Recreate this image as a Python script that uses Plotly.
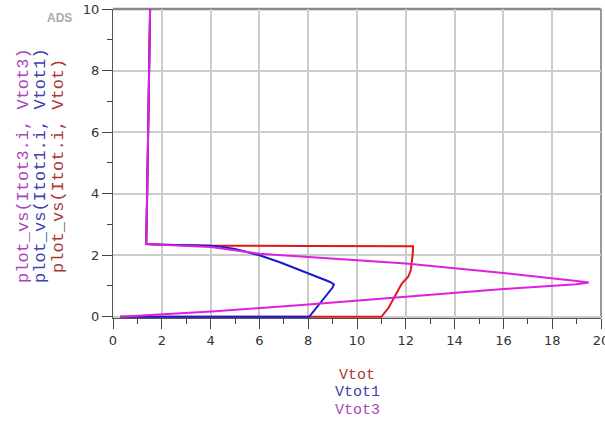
import plotly.graph_objects as go

# Series: Vtot (red)
vtot_x = [0.3, 11.0, 11.3, 11.83, 12.1, 12.2, 12.28, 12.3, 8.0, 4.0, 2.0, 1.36, 1.40, 1.45, 1.49, 1.52]
vtot_y = [0.0, 0.0, 0.3, 1.07, 1.3, 1.5, 2.0, 2.29, 2.30, 2.31, 2.34, 2.36, 4.0, 6.0, 8.0, 10.0]

# Series: Vtot1 (blue)
vtot1_x = [0.3, 8.04, 9.0, 9.05, 8.9, 6.84, 6.0, 5.5, 5.0, 4.5, 4.0, 3.0, 2.0, 1.36, 1.40, 1.45, 1.49, 1.52]
vtot1_y = [0.0, 0.0, 0.95, 1.05, 1.13, 1.77, 2.0, 2.1, 2.2, 2.27, 2.31, 2.32, 2.34, 2.36, 4.0, 6.0, 8.0, 10.0]

# Series: Vtot3 (magenta)
vtot3_x = [0.3, 4.2, 8.0, 12.0, 16.0, 19.0, 19.5, 19.0, 16.0, 12.0, 8.0, 6.0, 4.0, 3.0, 2.0, 1.36, 1.40, 1.45, 1.49, 1.52]
vtot3_y = [0.0, 0.18, 0.4, 0.65, 0.9, 1.06, 1.11, 1.16, 1.42, 1.73, 1.94, 2.05, 2.27, 2.3, 2.33, 2.36, 4.0, 6.0, 8.0, 10.0]

x_ticks = [0, 2, 4, 6, 8, 10, 12, 14, 16, 18, 20]
y_ticks = [0, 2, 4, 6, 8, 10]

series_names = ["Vtot", "Vtot1", "Vtot3"]
line_colors = ["#e01818", "#1a1ad0", "#e020e0"]
text_colors = ["#a83838", "#4040b0", "#a848b8"]
y_titles = ["plot_vs(Itot.i, Vtot)", "plot_vs(Itot1.i, Vtot1)", "plot_vs(Itot3.i, Vtot3)"]

fig = go.Figure()
for xs, ys, name, col in zip([vtot_x, vtot1_x, vtot3_x], [vtot_y, vtot1_y, vtot3_y], series_names, line_colors):
    fig.add_trace(go.Scatter(x=xs, y=ys, mode="lines", name=name,
                             line=dict(color=col, width=2), showlegend=False))

axis_common = dict(
    showgrid=True, gridcolor="#cccccc", gridwidth=1.5, layer="below traces",
    zeroline=False, showline=True, linecolor="#555555", linewidth=1.2,
    ticks="outside", ticklen=10, tickcolor="#444444", tickwidth=1.2,
    ticklabeloverflow="allow", automargin=False,
    tickfont=dict(family="DejaVu Sans", size=13, color="#333333"),
)
fig.update_xaxes(range=[0, 20], tickvals=x_ticks, **axis_common,
                 minor=dict(dtick=1, ticklen=5, tickcolor="#444444", showgrid=False, ticks="outside"))
fig.update_yaxes(range=[-0.04, 10], tickvals=y_ticks, **axis_common,
                 minor=dict(dtick=1, ticklen=5, tickcolor="#444444", showgrid=False, ticks="outside"))

# top and right borders
fig.add_shape(type="line", xref="paper", yref="paper", x0=0, x1=1, y0=1, y1=1, layer="below",
              line=dict(color="#888888", width=2.5))
fig.add_shape(type="line", xref="paper", yref="paper", x0=1, x1=1, y0=0, y1=1, layer="below",
              line=dict(color="#999999", width=2))

annotations = []
# rotated y titles (magenta leftmost)
y_x_pos = [58, 40, 23]
for txt, col, xp in zip(y_titles, text_colors, y_x_pos):
    annotations.append(dict(text=txt, xref="paper", yref="paper",
                            x=(xp - 113) / 488, y=(318 - 166) / 309,
                            xanchor="center", yanchor="middle", showarrow=False, textangle=-90,
                            font=dict(family="Liberation Mono", size=17, color=col)))
# x titles
x_y_pos = [375, 393, 411]
for txt, col, yp in zip(series_names, text_colors, x_y_pos):
    annotations.append(dict(text=txt, xref="paper", yref="paper",
                            x=0.5, y=(318 - yp) / 309,
                            xanchor="center", yanchor="middle", showarrow=False,
                            font=dict(family="Liberation Mono", size=15, color=col)))
annotations.append(dict(text="<b>ADS</b>", xref="paper", yref="paper",
                        x=(59 - 113) / 488, y=(318 - 18) / 309, xanchor="center", yanchor="middle",
                        showarrow=False, font=dict(family="Liberation Sans", size=12, color="#aaaaaa")))

fig.update_layout(width=605, height=421, margin=dict(l=113, r=4, t=9, b=103),
                  paper_bgcolor="white", plot_bgcolor="white", annotations=annotations)

fig.write_html("out.html")
